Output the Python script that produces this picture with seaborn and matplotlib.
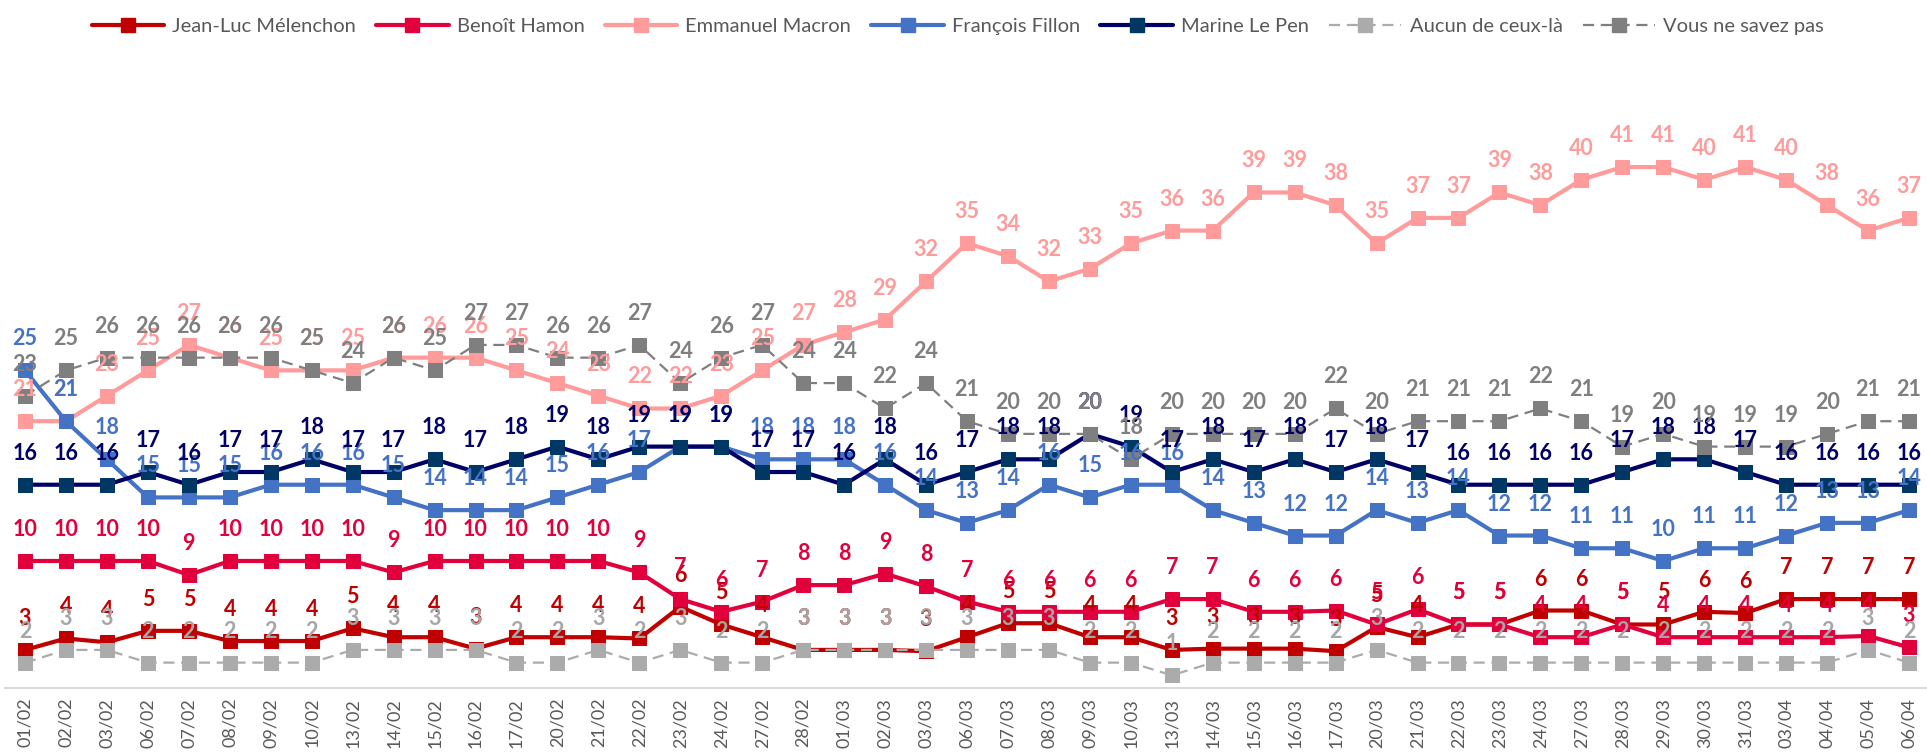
import numpy as np
import matplotlib
matplotlib.use('Agg')
import matplotlib.pyplot as plt
import seaborn as sns
from matplotlib.lines import Line2D

# dates du sondage quotidien
dates = ['01/02', '02/02', '03/02', '06/02', '07/02', '08/02', '09/02', '10/02', '13/02', '14/02',
         '15/02', '16/02', '17/02', '20/02', '21/02', '22/02', '23/02', '24/02', '27/02', '28/02',
         '01/03', '02/03', '03/03', '06/03', '07/03', '08/03', '09/03', '10/03', '13/03', '14/03',
         '15/03', '16/03', '17/03', '20/03', '21/03', '22/03', '23/03', '24/03', '27/03', '28/03',
         '29/03', '30/03', '31/03', '03/04', '04/04', '05/04', '06/04']

melenchon = [3.0, 3.9, 3.6, 4.5, 4.5, 3.7, 3.7, 3.7, 4.7, 4.0, 4.0, 3.1, 4.0, 4.0, 4.0, 3.9,
             6.4, 5.0, 4.0, 3.0, 3.0, 3.0, 2.9, 4.0, 5.1, 5.1, 4.0, 4.0, 3.0, 3.1, 3.1, 3.1,
             2.9, 4.8, 4.0, 5.0, 5.0, 6.1, 6.1, 5.0, 5.0, 6.0, 5.9, 7.0, 7.0, 7.0, 7.0]
hamon = [10, 10, 10, 10, 8.9, 10, 10, 10, 10, 9.1, 10, 10, 10, 10, 10, 9.1,
         7.0, 6.0, 6.8, 8.1, 8.1, 9.0, 8.0, 6.8, 6.0, 6.0, 6.0, 6.0, 7.0, 7.0, 6.0, 6.0,
         6.1, 5.0, 6.2, 5.0, 5.0, 4.0, 4.0, 5.0, 4.0, 4.0, 4.0, 4.0, 4.0, 4.1, 3.2]
macron = [21, 21, 23, 25, 27, 26, 25, 25, 25, 26, 26, 26, 25, 24, 23, 22,
          22, 23, 25, 27, 28, 29, 32, 35, 34, 32, 33, 35, 36, 36, 39, 39,
          38, 35, 37, 37, 39, 38, 40, 41, 41, 40, 41, 40, 38, 36, 37]
fillon = [25, 21, 18, 15, 15, 15, 16, 16, 16, 15, 14, 14, 14, 15, 16, 17,
          19, 19, 18, 18, 18, 16, 14, 13, 14, 16, 15, 16, 16, 14, 13, 12,
          12, 14, 13, 14, 12, 12, 11, 11, 10, 11, 11, 12, 13, 13, 14]
le_pen = [16, 16, 16, 17, 16, 17, 17, 18, 17, 17, 18, 17, 18, 19, 18, 19,
          19, 19, 17, 17, 16, 18, 16, 17, 18, 18, 20, 19, 17, 18, 17, 18,
          17, 18, 17, 16, 16, 16, 16, 17, 18, 18, 17, 16, 16, 16, 16]
aucun = [2, 3, 3, 2, 2, 2, 2, 2, 3, 3, 3, 3, 2, 2, 3, 2,
         3, 2, 2, 3, 3, 3, 3, 3, 3, 3, 2, 2, 1, 2, 2, 2,
         2, 3, 2, 2, 2, 2, 2, 2, 2, 2, 2, 2, 2, 3, 2]
nsp = [23, 25, 26, 26, 26, 26, 26, 25, 24, 26, 25, 27, 27, 26, 26, 27,
       24, 26, 27, 24, 24, 22, 24, 21, 20, 20, 20, 18, 20, 20, 20, 20,
       22, 20, 21, 21, 21, 22, 21, 19, 20, 19, 19, 19, 20, 21, 21]

# nom, valeurs, couleur ligne, couleur marqueur, couleur étiquette, style
series = [
    ('Jean-Luc Mélenchon', melenchon, '#C00000', '#C00000', '#C00000', '-'),
    ('Benoît Hamon', hamon, '#E2003C', '#E2003C', '#E2003C', '-'),
    ('Emmanuel Macron', macron, '#FF9B9B', '#FF9B9B', '#FF9B9B', '-'),
    ('François Fillon', fillon, '#4472C4', '#4472C4', '#4472C4', '-'),
    ('Marine Le Pen', le_pen, '#000066', '#003764', '#000066', '-'),
    ('Aucun de ceux-là', aucun, '#ABABAB', '#ABABAB', '#A6A6A6', '--'),
    ('Vous ne savez pas', nsp, '#7F7F7F', '#7F7F7F', '#7F7F7F', '--'),
]

sns.set_theme(style='white')
plt.rcParams['font.family'] = ['Lato', 'DejaVu Sans']

fig = plt.figure(figsize=(19.27, 7.55), dpi=100)
ax = fig.add_axes([4.5 / 1927, 0.0887, 1925 / 1927, 0.8415])
x = np.arange(len(dates))

handles = []
for name, vals, lc, mc, tc, ls in series:
    dashed = ls == '--'
    sns.lineplot(x=x, y=vals, ax=ax, color=lc, linewidth=1.6 if dashed else 3.0,
                 linestyle=ls, marker='s', markersize=9.5, markerfacecolor=mc,
                 markeredgecolor=mc, legend=False)
    if dashed:
        ax.lines[-1].set_dashes((5, 3))
    handles.append(Line2D([], [], color=lc, linewidth=1.6 if dashed else 3.0,
                          linestyle=(0, (5, 3)) if dashed else '-', marker='s',
                          markersize=9.5, markerfacecolor=mc, markeredgecolor=mc))

# étiquettes de données au-dessus de chaque point
for name, vals, lc, mc, tc, ls in series:
    for i, v in enumerate(vals):
        ax.annotate(f'{int(np.floor(v + 0.5))}', (i, v), xytext=(0, 18),
                    textcoords='offset points', ha='center', va='baseline',
                    fontsize=15.5, fontweight='bold', color=tc, zorder=10)

ax.set_xlim(-0.5, len(dates) - 0.5)
ax.set_ylim(0, 50)
ax.set_xticks(x)
ax.set_xticklabels(dates, rotation=90, fontsize=13, color='#595959')
ax.set_yticks([])
ax.tick_params(axis='x', length=0, pad=7)
for side in ['top', 'left', 'right']:
    ax.spines[side].set_visible(False)
ax.spines['bottom'].set_color('#D9D9D9')
ax.spines['bottom'].set_linewidth(1.5)
ax.set_xlabel('')
ax.set_ylabel('')

fig.legend(handles, [s[0] for s in series], loc='upper center',
           bbox_to_anchor=(0.497, 1.0), ncol=7, frameon=False, fontsize=14.5,
           handlelength=3.6, handletextpad=0.4, columnspacing=1.0,
           labelcolor='#595959')

plt.savefig('out.png', dpi=100)
